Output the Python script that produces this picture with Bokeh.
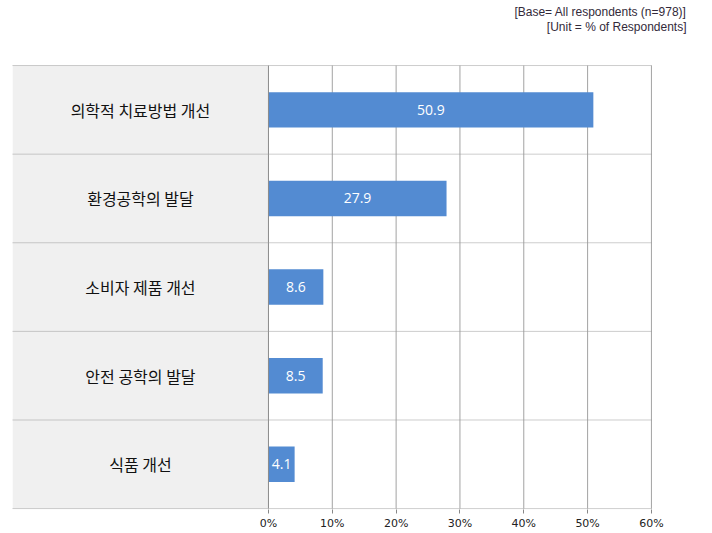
from bokeh.plotting import figure
from bokeh.models import ColumnDataSource, FixedTicker, CustomJSTickFormatter
from bokeh.core.properties import value
from bokeh.embed import file_html
from bokeh.resources import INLINE

categories = ["의학적 치료방법 개선", "환경공학의 발달", "소비자 제품 개선", "안전 공학의 발달", "식품 개선"]
values = [50.9, 27.9, 8.6, 8.5, 4.1]
x_ticks = [0, 10, 20, 30, 40, 50, 60]
note_lines = ["[Base= All respondents (n=978)]", "[Unit = % of Respondents]"]

n = len(categories)
ypos = [n - i - 0.5 for i in range(n)]
panel_left = -40.1

src = ColumnDataSource(dict(
    cat=categories, val=values, y=ypos,
    mid=[v / 2 for v in values],
    lbl=[f"{v:.1f}" for v in values],
    cx=[panel_left / 2] * n,
))

p = figure(width=712, height=533, x_range=(panel_left, 68), y_range=(-0.01, 5.734),
           output_backend="svg", toolbar_location=None)
p.min_border_left = 12
p.min_border_right = 10
p.min_border_top = 0
p.min_border_bottom = 24
p.outline_line_color = None
p.xgrid.visible = False
p.ygrid.visible = False

# gray category panel
p.quad(left=panel_left, right=0, bottom=0, top=n, fill_color="#f0f0f0", line_color=None)

# vertical grid lines
p.segment(x0=x_ticks[1:], y0=[0] * 6, x1=x_ticks[1:], y1=[n] * 6, line_color="#a3a3a3", line_width=1)

# bars
p.hbar(y="y", left=0, right="val", height=0.4, source=src, fill_color="#538bd2", line_color=None)

# zero line
p.segment(x0=[0], y0=[0], x1=[0], y1=[n], line_color="#8a8a8a", line_width=1)

# row separators
seps = list(range(n + 1))
p.segment(x0=[panel_left] * len(seps), y0=seps, x1=[60] * len(seps), y1=seps,
          line_color="#9a9a9a", line_width=1, line_dash="1 1")

# value labels
p.text(x="mid", y="y", text="lbl", source=src, text_color="white", text_align="center",
       text_baseline="middle", text_font=value("Open Sans"), text_font_size="14px")

# category labels
p.text(x="cx", y="y", text="cat", source=src, text_color="#111111", text_align="center",
       text_baseline="middle", text_font=value("Noto Sans CJK KR"), text_font_size="16px")

# notes
p.text(x=[65.5] * 2, y=[5.6, 5.43], text=note_lines, text_align="right", text_baseline="middle",
       text_font=value("Liberation Sans"), text_font_size="12px", text_color="#332a3a")

p.yaxis.visible = False
p.xaxis.ticker = FixedTicker(ticks=x_ticks)
p.xaxis.formatter = CustomJSTickFormatter(code="return tick + '%';")
p.xaxis.axis_line_color = None
p.xaxis.major_tick_line_color = "#888888"
p.xaxis.major_tick_in = 0
p.xaxis.major_tick_out = 4
p.xaxis.minor_tick_line_color = None
p.xaxis.major_label_standoff = 3
p.xaxis.major_label_text_font = "DejaVu Sans"
p.xaxis.major_label_text_font_size = "11px"
p.xaxis.major_label_text_color = "#222222"

open("out.html", "w").write(file_html(p, INLINE))
